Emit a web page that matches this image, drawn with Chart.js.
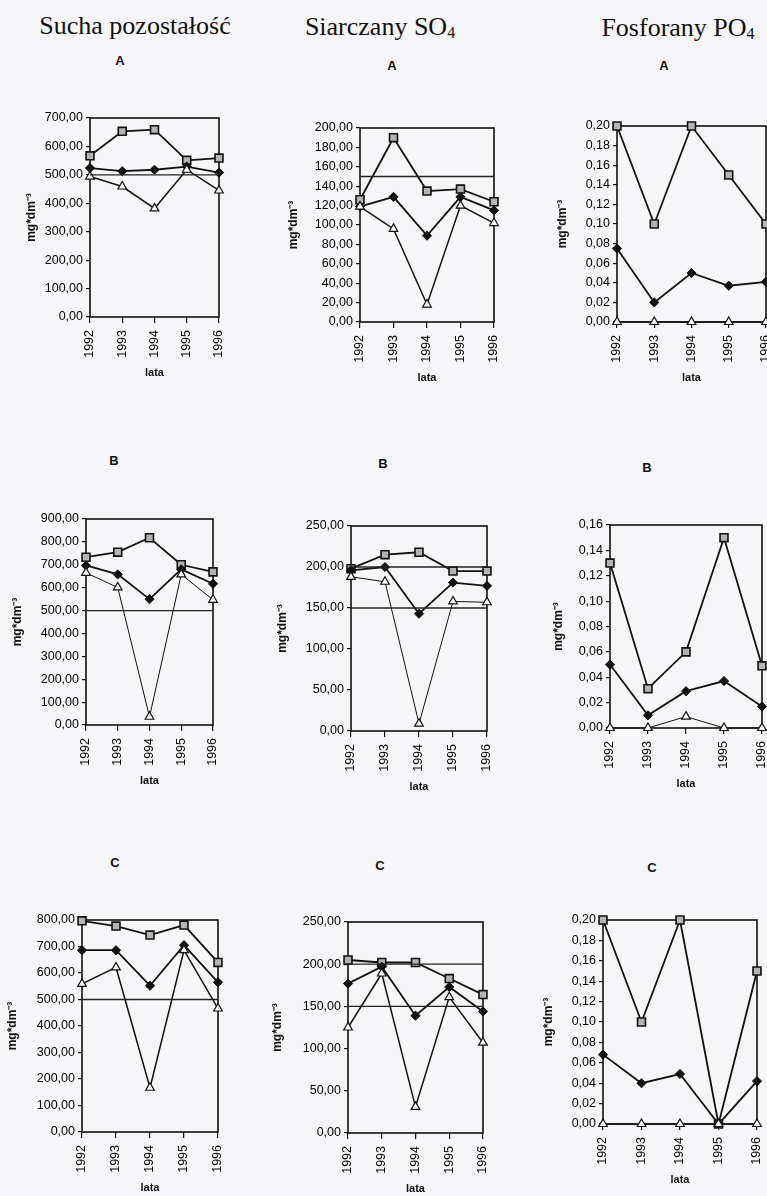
<!DOCTYPE html>
<html>
<head>
<meta charset="utf-8">
<script src="https://cdn.jsdelivr.net/npm/chart.js@4.4.0/dist/chart.umd.min.js"></script>
<style>
  html, body { margin: 0; padding: 0; }
  body { width: 767px; height: 1196px; background: #f6f6f8; position: relative; overflow: hidden;
         font-family: "Liberation Sans", Arial, sans-serif; }
  .title { position: absolute; font-family: "Liberation Serif", "Times New Roman", serif; font-size: 26px;
           line-height: 1; color: #111; white-space: nowrap; transform: translate(-50%, -50%); }
  .title sub { font-size: 16px; vertical-align: -3px; }
  .letter { position: absolute; font-weight: bold; font-size: 13px; line-height: 1; color: #111;
            transform: translate(-50%, -50%); }
  .box { position: absolute; }
</style>
</head>
<body>
<div class="title" style="left:135px; top:26px">Sucha pozostałość</div>
<div class="title" style="left:380px; top:27px">Siarczany SO<sub>4</sub></div>
<div class="title" style="left:678px; top:28px">Fosforany PO<sub>4</sub></div>

<div class="letter" style="left:120px; top:60px">A</div>
<div class="letter" style="left:392px; top:65px">A</div>
<div class="letter" style="left:664px; top:65px">A</div>
<div class="letter" style="left:114px; top:460px">B</div>
<div class="letter" style="left:383px; top:463px">B</div>
<div class="letter" style="left:647px; top:467px">B</div>
<div class="letter" style="left:115px; top:862px">C</div>
<div class="letter" style="left:380px; top:865px">C</div>
<div class="letter" style="left:652px; top:867px">C</div>

<script>
// lata (years) on the x axis
const years = ["1992", "1993", "1994", "1995", "1996"];

// Sucha pozostałość (mg*dm-3)
const suchaA_sq  = [567, 653, 659, 551, 559];
const suchaA_dia = [524, 513, 518, 529, 508];
const suchaA_tri = [494, 459, 382, 518, 445];
const suchaB_sq  = [733, 755, 818, 700, 669];
const suchaB_dia = [697, 658, 550, 680, 617];
const suchaB_tri = [665, 601, 36, 658, 547];
const suchaC_sq  = [797, 777, 743, 781, 640];
const suchaC_dia = [686, 686, 552, 705, 565];
const suchaC_tri = [559, 621, 167, 686, 466];

// Siarczany SO4
const so4A_sq  = [126, 190, 135, 137, 124];
const so4A_dia = [119, 129, 89, 129, 115];
const so4A_tri = [119, 96, 18, 120, 102];
const so4B_sq  = [198, 215, 218, 195, 195];
const so4B_dia = [196, 200, 143, 181, 177];
const so4B_tri = [188, 182, 9, 158, 157];
const so4C_sq  = [205, 202, 202, 183, 164];
const so4C_dia = [177, 197, 139, 173, 144];
const so4C_tri = [125, 189, 31, 161, 107];

// Fosforany PO4
const po4A_sq  = [0.20, 0.10, 0.20, 0.15, 0.10];
const po4A_dia = [0.075, 0.020, 0.050, 0.037, 0.041];
const po4A_tri = [0, 0, 0, 0, 0];
const po4B_sq  = [0.130, 0.031, 0.060, 0.150, 0.049];
const po4B_dia = [0.050, 0.010, 0.029, 0.037, 0.017];
const po4B_tri = [0, 0, 0.009, 0, 0];
const po4C_sq  = [0.20, 0.10, 0.20, 0, 0.15];
const po4C_dia = [0.068, 0.040, 0.049, 0, 0.042];
const po4C_tri = [0, 0, 0, 0, 0];

// limit lines (normy)
const suchaLimits = [500];
const so4LimitsA  = [150];
const so4LimitsBC = [200, 150];
const po4Limits   = [];

// y axis ranges
const suchaMaxA = 700, suchaMaxB = 900, suchaMaxC = 800, suchaStep = 100;
const so4MaxA = 200, so4StepA = 20, so4MaxBC = 250, so4StepBC = 50;
const po4MaxA = 0.20, po4MaxB = 0.16, po4MaxC = 0.20, po4Step = 0.02;

const PT = 8, PR = 8, XH = 67;

// where each plot box sits on the page
const panels = [
  { l: 90,  t: 118, r: 219, b: 317, yw: 70, max: suchaMaxA, step: suchaStep, lim: suchaLimits, sq: suchaA_sq, dia: suchaA_dia, tri: suchaA_tri, triW: 1.5 },
  { l: 360, t: 128, r: 494, b: 322, yw: 78, max: so4MaxA,   step: so4StepA,  lim: so4LimitsA,  sq: so4A_sq,   dia: so4A_dia,   tri: so4A_tri,   triW: 1.5 },
  { l: 617, t: 126, r: 766, b: 322, yw: 66, max: po4MaxA,   step: po4Step,   lim: po4Limits,   sq: po4A_sq,   dia: po4A_dia,   tri: po4A_tri,   triW: 1.5 },
  { l: 86,  t: 519, r: 213, b: 725, yw: 80, max: suchaMaxB, step: suchaStep, lim: suchaLimits, sq: suchaB_sq, dia: suchaB_dia, tri: suchaB_tri, triW: 1 },
  { l: 351, t: 526, r: 487, b: 731, yw: 80, max: so4MaxBC,  step: so4StepBC, lim: so4LimitsBC, sq: so4B_sq,   dia: so4B_dia,   tri: so4B_tri,   triW: 1 },
  { l: 610, t: 525, r: 762, b: 728, yw: 63, max: po4MaxB,   step: po4Step,   lim: po4Limits,   sq: po4B_sq,   dia: po4B_dia,   tri: po4B_tri,   triW: 1 },
  { l: 82,  t: 920, r: 218, b: 1132, yw: 81, max: suchaMaxC, step: suchaStep, lim: suchaLimits, sq: suchaC_sq, dia: suchaC_dia, tri: suchaC_tri, triW: 1.5 },
  { l: 348, t: 922, r: 483, b: 1133, yw: 82, max: so4MaxBC,  step: so4StepBC, lim: so4LimitsBC, sq: so4C_sq,   dia: so4C_dia,   tri: so4C_tri,   triW: 1.5 },
  { l: 603, t: 920, r: 757, b: 1124, yw: 66, max: po4MaxC,   step: po4Step,   lim: po4Limits,   sq: po4C_sq,   dia: po4C_dia,   tri: po4C_tri,   triW: 1.5 }
];

// plot frame drawn round the chart area
const framePlugin = {
  id: "frame",
  beforeDatasetsDraw(chart) {
    const a = chart.chartArea, ctx = chart.ctx;
    ctx.save();
    ctx.strokeStyle = "#111";
    ctx.lineWidth = 1.6;
    ctx.strokeRect(a.left, a.top, a.right - a.left, a.bottom - a.top);
    ctx.restore();
  }
};

panels.forEach(function (p) {
  const div = document.createElement("div");
  div.className = "box";
  const w = p.r - p.l + p.yw + PR;
  const h = p.b - p.t + PT + XH;
  div.style.left = (p.l - p.yw) + "px";
  div.style.top = (p.t - PT) + "px";
  div.style.width = w + "px";
  div.style.height = h + "px";
  const cv = document.createElement("canvas");
  div.appendChild(cv);
  document.body.appendChild(div);

  let datasets = p.lim.map(v => ({
    data: years.map(() => v),
    borderColor: "#222",
    borderWidth: 1.3,
    pointRadius: 0,
    clip: false
  }));
  datasets.push({
    data: p.tri, borderColor: "#111", borderWidth: p.triW,
    pointStyle: "triangle", pointRadius: 5, pointBackgroundColor: "#fafafa",
    pointBorderColor: "#111", pointBorderWidth: 1.2, clip: false
  });
  datasets.push({
    data: p.dia, borderColor: "#111", borderWidth: 1.8,
    pointStyle: "rectRot", pointRadius: 4.6, pointBackgroundColor: "#111",
    pointBorderColor: "#111", pointBorderWidth: 1, clip: false
  });
  datasets.push({
    data: p.sq, borderColor: "#111", borderWidth: 1.8,
    pointStyle: "rect", pointRadius: 5.6, pointBackgroundColor: "#b4b4b4",
    pointBorderColor: "#111", pointBorderWidth: 1.6, clip: false
  });

  new Chart(cv, {
    type: "line",
    data: { labels: years, datasets: datasets },
    options: {
      responsive: true,
      maintainAspectRatio: false,
      animation: false,
      layout: { padding: { top: PT, right: PR, left: 0, bottom: 0 } },
      plugins: { legend: { display: false }, tooltip: { enabled: false } },
      elements: { line: { tension: 0 } },
      scales: {
        x: {
          offset: false,
          border: { display: false },
          grid: { display: true, drawOnChartArea: false, drawTicks: true, tickLength: 6, color: "#111", lineWidth: 1.2 },
          ticks: { autoSkip: false, maxRotation: 90, minRotation: 90, padding: 7, color: "#000",
                   font: { family: "Liberation Sans, Arial, sans-serif", size: 12.5 } },
          title: { display: true, text: "lata", color: "#111",
                   font: { family: "Liberation Sans, Arial, sans-serif", size: 11, weight: "bold" } },
          afterFit: function (s) { s.height = XH; s.paddingLeft = 0; s.paddingRight = 0; }
        },
        y: {
          min: 0, max: p.max,
          border: { display: false },
          grid: { display: true, drawOnChartArea: false, drawTicks: true, tickLength: 4, color: "#111", lineWidth: 1.2 },
          ticks: { stepSize: p.step, padding: 3, color: "#000", autoSkip: false,
                   font: { family: "Liberation Sans, Arial, sans-serif", size: 12.5 },
                   callback: v => Number(v).toFixed(2).replace(".", ",") },
          title: { display: true, text: "mg*dm\u207B\u00B3", color: "#111",
                   font: { family: "Liberation Sans, Arial, sans-serif", size: 12, weight: "bold" } },
          afterFit: function (s) { s.width = p.yw; s.paddingTop = 0; s.paddingBottom = 0; }
        }
      }
    },
    plugins: [framePlugin]
  });
});
</script>
</body>
</html>
